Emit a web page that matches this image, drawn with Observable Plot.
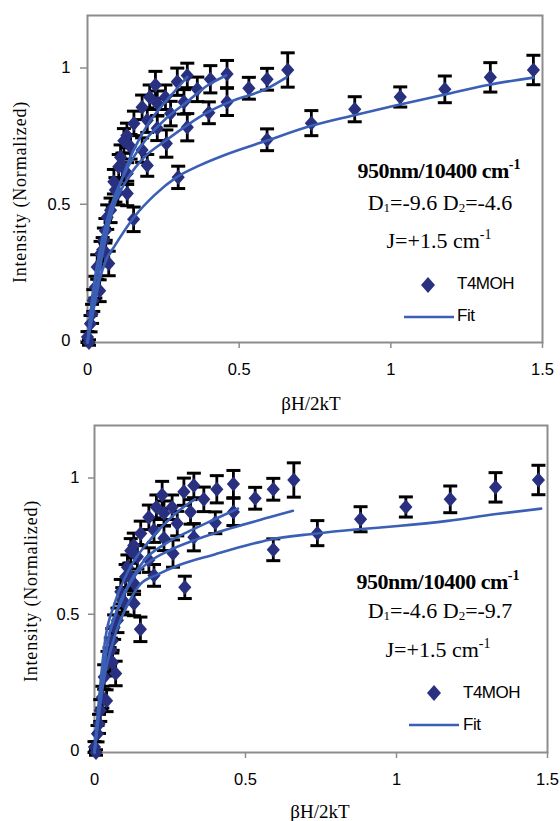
<!DOCTYPE html>
<html><head><meta charset="utf-8">
<script src="https://cdn.jsdelivr.net/npm/d3@7"></script>
<script src="https://cdn.jsdelivr.net/npm/@observablehq/plot@0.6"></script>
<style>
body{margin:0;background:#fff;width:560px;height:821px;position:relative;overflow:hidden;}
.panel{position:absolute;left:0;width:560px;}
.ann{position:absolute;font-family:"Liberation Serif","Times New Roman",serif;color:#000;white-space:nowrap;transform:translateX(-50%);line-height:1;font-size:22px;}
.ann.b{font-weight:bold;letter-spacing:-0.5px;}
.ann sup{font-size:14px;position:relative;top:-9px;vertical-align:baseline;line-height:0;letter-spacing:0;}
.ann sub{font-size:13px;position:relative;top:2px;vertical-align:baseline;line-height:0;}
.leg{position:absolute;font-family:"Liberation Sans",Arial,sans-serif;font-size:17px;line-height:1;white-space:nowrap;color:#000;letter-spacing:-0.5px;}
.ylab{position:absolute;font-family:"Liberation Serif","Times New Roman",serif;font-size:18px;letter-spacing:0.8px;white-space:nowrap;transform:translate(-50%,-50%) rotate(-90deg);line-height:1;}
.xlab{position:absolute;font-family:"Liberation Serif","Times New Roman",serif;font-size:19px;white-space:nowrap;transform:translate(-50%,-50%);line-height:1;}
svg{display:block;}
</style>
</head><body>
<div class="panel" id="p1" style="top:0;height:410px;"></div>
<div class="panel" id="p2" style="top:410px;height:411px;"></div>
<script>
// ---- data ----
const xTicks = [0, 0.5, 1, 1.5];
const yTicks = [0, 0.5, 1];

// measured points (beta H / 2kT, normalized intensity, error half-height)
const ptX = [1.47, 1.328, 1.178, 1.031, 0.881, 0.738, 0.592, 0.299, 0.152,
  0.66, 0.592, 0.532, 0.46, 0.46, 0.405, 0.40, 0.362, 0.329, 0.329, 0.318,
  0.296, 0.274, 0.26, 0.257, 0.23, 0.23, 0.224, 0.205, 0.197, 0.197,
  0.18, 0.18, 0.153, 0.142, 0.13, 0.131, 0.131, 0.109, 0.103, 0.092,
  0.087, 0.076, 0.065, 0.059, 0.054, 0.043, 0.07, 0.032, 0.026, 0.019,
  0.015, 0.01, 0.0, 0.005, 0.05, 0.06, 0.1, 0.115, 0.12, 0.04];
const ptY = [1.0, 0.973, 0.929, 0.901, 0.856, 0.805, 0.744, 0.606, 0.452,
  1.0, 0.966, 0.933, 0.985, 0.883, 0.966, 0.843, 0.929, 0.98, 0.79, 0.883,
  0.957, 0.84, 0.73, 0.90, 0.878, 0.786, 0.945, 0.90, 0.816, 0.65,
  0.863, 0.706, 0.804, 0.718, 0.76, 0.62, 0.547, 0.68, 0.645, 0.56,
  0.59, 0.485, 0.46, 0.41, 0.375, 0.326, 0.29, 0.277, 0.203, 0.154,
  0.105, 0.069, 0.02, 0.0, 0.34, 0.33, 0.55, 0.65, 0.74, 0.19];
const ptErr = [0.054, 0.054, 0.049, 0.037, 0.046, 0.046, 0.04, 0.041, 0.045,
  0.063, 0.04, 0.04, 0.05, 0.05, 0.05, 0.04, 0.045, 0.045, 0.05, 0.045,
  0.05, 0.045, 0.05, 0.045, 0.045, 0.045, 0.05, 0.045, 0.045, 0.04,
  0.045, 0.045, 0.045, 0.045, 0.045, 0.04, 0.045, 0.045, 0.045, 0.045,
  0.045, 0.045, 0.045, 0.045, 0.045, 0.045, 0.045, 0.045, 0.04, 0.04,
  0.035, 0.03, 0.02, 0.01, 0.045, 0.045, 0.045, 0.045, 0.045, 0.04];

// fit curves, top panel
const fit1A = [[0,0],[0.02,0.12],[0.04,0.23],[0.06,0.30],[0.087,0.35],[0.152,0.458],[0.22,0.54],[0.293,0.606],[0.37,0.65],[0.457,0.69],[0.592,0.741],[0.738,0.795],[0.879,0.834],[1.008,0.868],[1.178,0.91],[1.32,0.945],[1.47,0.972]];
const fit1B = [[0,0],[0.029,0.249],[0.059,0.397],[0.094,0.52],[0.135,0.606],[0.1875,0.68],[0.258,0.741],[0.328,0.797],[0.398,0.846],[0.469,0.883],[0.592,0.932],[0.656,0.973]];
const fit1C = [[0,0],[0.018,0.187],[0.047,0.372],[0.076,0.495],[0.111,0.594],[0.152,0.68],[0.199,0.754],[0.258,0.821],[0.328,0.883],[0.398,0.945],[0.457,0.98]];
const fit1D = [[0,0],[0.032,0.216],[0.054,0.35],[0.076,0.46],[0.098,0.547],[0.12,0.62],[0.147,0.694],[0.175,0.755],[0.208,0.816],[0.252,0.877],[0.296,0.933],[0.329,0.975]];
// fit curves, bottom panel
const fit2A = [[0,0],[0.03,0.26],[0.065,0.42],[0.113,0.55],[0.152,0.618],[0.208,0.653],[0.285,0.69],[0.398,0.727],[0.517,0.764],[0.576,0.78],[0.73,0.803],[0.873,0.819],[1.004,0.831],[1.17,0.85],[1.324,0.874],[1.479,0.895]];
const fit2B = [[0,0],[0.042,0.394],[0.089,0.554],[0.137,0.653],[0.184,0.702],[0.243,0.739],[0.338,0.782],[0.457,0.825],[0.576,0.862],[0.657,0.887]];
const fit2C = [[0,0],[0.042,0.394],[0.077,0.53],[0.125,0.64],[0.172,0.714],[0.232,0.764],[0.315,0.813],[0.398,0.856],[0.475,0.895]];
const fit2D = [[0,0],[0.036,0.419],[0.065,0.542],[0.1,0.64],[0.137,0.714],[0.172,0.764],[0.22,0.825],[0.279,0.887],[0.333,0.93]];

const axisColor = "#8c8c8c";
const markerColor = "#28307f";
const fitColor = "#3a5fb5";

const diamondSym = {draw(ctx, size){ const h = Math.sqrt(size/Math.PI); const w = h*0.88;
  ctx.moveTo(0,-h); ctx.lineTo(w,0); ctx.lineTo(0,h); ctx.lineTo(-w,0); ctx.closePath(); }};
const capSym = {draw(ctx, size){ const w = Math.sqrt(size/Math.PI); ctx.moveTo(-w,0); ctx.lineTo(w,0); }};

function makePanel(el, fits, m, text) {
  const pts = ptX.map((x,i)=>({x, y: ptY[i], lo: ptY[i]-ptErr[i], hi: ptY[i]+ptErr[i]}));
  const lines = fits.flatMap((f,k)=> f.map(([x,y])=>({x, y, k})));
  const chart = Plot.plot({
    width: 560, height: m.height,
    marginLeft: m.left, marginRight: m.right, marginTop: m.top, marginBottom: m.bottom,
    x: {domain: [0, 1.5]}, y: {domain: [0, 1.2]},
    style: {fontFamily: '"Liberation Sans", Arial, sans-serif', fontSize: "16.5px", background: "transparent", overflow: "visible", color: "#000"},
    marks: [
      Plot.frame({stroke: axisColor, strokeWidth: 2}),
      Plot.axisX({ticks: xTicks, tickSize: 6, tickPadding: m.xpad, stroke: axisColor, strokeWidth: 1.5, fill: "#000", tickFormat: d => String(d), label: null}),
      Plot.axisY({ticks: yTicks, tickSize: m.ytick, tickPadding: m.ypad, stroke: axisColor, strokeWidth: 1.5, fill: "#000", tickFormat: d => String(d), label: null, dy: -2}),
      Plot.ruleX(pts, {x: "x", y1: "lo", y2: "hi", stroke: "#000", strokeWidth: 2.8}),
      Plot.dot(pts, {x: "x", y: "hi", symbol: capSym, r: 7, stroke: "#000", strokeWidth: 3, fill: "none"}),
      Plot.dot(pts, {x: "x", y: "lo", symbol: capSym, r: 7, stroke: "#000", strokeWidth: 3, fill: "none"}),
      Plot.dot(pts, {x: "x", y: "y", symbol: diamondSym, r: 7.5, fill: markerColor, stroke: "none"}),
      Plot.line(lines, {x: "x", y: "y", z: "k", stroke: fitColor, strokeWidth: 2.6, curve: "monotone-x"})
    ]
  });
  el.appendChild(chart);
  el.insertAdjacentHTML("beforeend", text);
}

makePanel(document.getElementById("p1"), [fit1A, fit1B, fit1C, fit1D],
  {height: 410, left: 87, right: 18, top: 15, bottom: 68, xpad: 15, ytick: 7, ypad: 10},
  `<div class="ann b" style="left:439px;top:160px;">950nm/10400 cm<sup>-1</sup></div>
   <div class="ann" style="left:440px;top:192px;">D<sub>1</sub>=-9.6 D<sub>2</sub>=-4.6</div>
   <div class="ann" style="left:439px;top:230px;">J=+1.5 cm<sup>-1</sup></div>
   <svg style="position:absolute;left:420px;top:276px;" width="16" height="18"><path d="M8 1 L15 9 L8 17 L1 9 Z" fill="${markerColor}"/></svg>
   <div class="leg" style="left:457px;top:275px;">T4MOH</div>
   <svg style="position:absolute;left:404px;top:315px;" width="50" height="4"><line x1="0" y1="2" x2="50" y2="2" stroke="${fitColor}" stroke-width="2.6"/></svg>
   <div class="leg" style="left:457px;top:307px;">Fit</div>
   <div class="ylab" style="left:20px;top:192px;">Intensity (Normalized)</div>
   <div class="xlab" style="left:311px;top:403px;">&beta;H/2kT</div>`);

makePanel(document.getElementById("p2"), [fit2A, fit2B, fit2C, fit2D],
  {height: 411, left: 94, right: 13, top: 15, bottom: 69, xpad: 15, ytick: 6, ypad: 9},
  `<div class="ann b" style="left:438px;top:161px;">950nm/10400 cm<sup>-1</sup></div>
   <div class="ann" style="left:440px;top:190px;">D<sub>1</sub>=-4.6 D<sub>2</sub>=-9.7</div>
   <div class="ann" style="left:438px;top:229px;">J=+1.5 cm<sup>-1</sup></div>
   <svg style="position:absolute;left:426px;top:274px;" width="16" height="18"><path d="M8 1 L15 9 L8 17 L1 9 Z" fill="${markerColor}"/></svg>
   <div class="leg" style="left:463px;top:274px;">T4MOH</div>
   <svg style="position:absolute;left:409px;top:313px;" width="50" height="4"><line x1="0" y1="2" x2="50" y2="2" stroke="${fitColor}" stroke-width="2.6"/></svg>
   <div class="leg" style="left:463px;top:306px;">Fit</div>
   <div class="ylab" style="left:31px;top:181px;">Intensity (Normalized)</div>
   <div class="xlab" style="left:320px;top:401px;">&beta;H/2kT</div>`);
</script>
</body></html>
